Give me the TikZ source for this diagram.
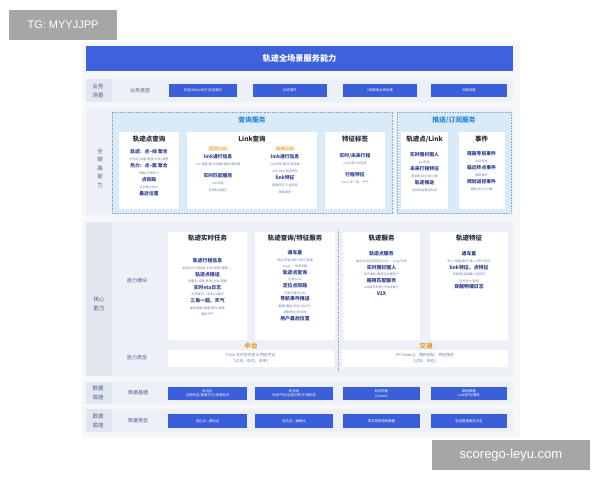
\documentclass[tikz,border=0pt]{standalone}
\usepackage{fontspec}
\setmainfont{Noto Sans CJK SC}
\newfontfamily\wmfont{Liberation Sans}
\usetikzlibrary{positioning}
\definecolor{titleblue}{HTML}{3E62DC}
\definecolor{boxblue}{HTML}{3A5FD8}
\definecolor{panelbg}{HTML}{F6F7FA}
\definecolor{rowbg}{HTML}{EDF1F7}
\definecolor{labelbg}{HTML}{E1E6EF}
\definecolor{labelcol}{HTML}{4F5F8C}
\definecolor{queryfill}{HTML}{D9EBF9}
\definecolor{dotcol}{HTML}{8EA6BF}
\definecolor{cyantitle}{HTML}{2B8BD6}
\definecolor{headcol}{HTML}{262B3A}
\definecolor{itemblue}{HTML}{2E3F8F}
\definecolor{descgray}{HTML}{7382A8}
\definecolor{tagorange}{HTML}{E39A2E}
\definecolor{tagbg}{HTML}{FCEBD0}
\definecolor{wmgray}{HTML}{A6A6A6}
\newcommand{\itm}[1]{{\color{itemblue}\bfseries #1}}
\newcommand{\dsc}[1]{{\fontsize{3.1}{6}\selectfont\color{descgray}#1}}

\begin{document}
\begin{tikzpicture}[x=1pt,y=-1pt,every node/.style={inner sep=0pt},
  rowband/.style={fill=rowbg},
  labelcell/.style={fill=labelbg},
  sidelabel/.style={text=labelcol,font=\fontsize{5.5}{8.5}\selectfont,align=center},
  typelabel/.style={text=labelcol,font=\fontsize{5}{6}\selectfont},
  bluebox/.style={fill=boxblue,text=white,font=\fontsize{3.4}{4.6}\selectfont,align=center,minimum height=13pt},
  panel/.style={fill=white},
  dotbox/.style={fill=queryfill,draw=dotcol,densely dotted,line width=0.6pt},
  grouptitle/.style={text=cyantitle,font=\fontsize{6.8}{7}\selectfont\bfseries},
  head/.style={text=headcol,font=\fontsize{6.5}{7}\selectfont\bfseries},
  items/.style={align=center,font=\fontsize{4.8}{7}\selectfont},
  coreitems/.style={align=center,font=\fontsize{4.9}{6.6}\selectfont},
  tag/.style={fill=tagbg,text=tagorange,font=\fontsize{4.4}{5}\selectfont,inner sep=0.8pt},
  zone/.style={text=tagorange,font=\fontsize{6.5}{7}\selectfont\bfseries},
  typebox/.style={fill=white,text=descgray,align=center,font=\fontsize{3.9}{6}\selectfont,minimum height=17pt},
  sepline/.style={draw=dotcol,densely dotted,line width=0.7pt},
  watermark/.style={fill=wmgray,text=white}]
\useasboundingbox (0,0) rectangle (600,480);
\fill[white] (0,0) rectangle (600,480);
\fill[panelbg] (82,42) rectangle (520,437);

\node[watermark,minimum width=108pt,minimum height=30pt,font=\wmfont\fontsize{11}{12}\selectfont] (wm1) at (63,25) {TG: MYYJJPP};
\node[watermark,minimum width=158pt,minimum height=30pt,font=\wmfont\fontsize{13}{14}\selectfont] (wm2) at (511,455) {scorego-leyu.com};

\node[fill=titleblue,text=white,minimum width=427pt,minimum height=25pt,font=\fontsize{8.2}{9}\selectfont\bfseries] (title) at (299.5,58.5) {轨迹全场景服务能力};

\fill[rowband] (86,79) rectangle (513,102);
\fill[labelcell] (86,79) rectangle (112,102);
\fill[rowband] (86,107) rectangle (513,215);
\fill[rowband] (86,222) rectangle (513,376);
\fill[labelcell] (86,222) rectangle (112,376);
\fill[rowband] (86,382) rectangle (513,404);
\fill[labelcell] (86,382) rectangle (112,404);
\fill[rowband] (86,409) rectangle (513,432);
\fill[labelcell] (86,409) rectangle (112,432);

\node[sidelabel] (l1) at (98,91) {业务\\场景};
\node[sidelabel] (l2) at (100,168) {全\\链\\路\\能\\力};
\node[sidelabel] (l3) at (99,304) {核心\\能力};
\node[sidelabel] (l4) at (98,393) {数据\\底座};
\node[sidelabel] (l5) at (98,421) {数据\\底座};
\node[typelabel] (t1) at (140,91) {业务类型};
\node[typelabel] (t3a) at (137,281) {能力模块};
\node[typelabel] (t3b) at (137,358) {能力类型};
\node[typelabel] (t4) at (138,393) {数据基建};
\node[typelabel] (t5) at (138,421) {数据类型};

\node[bluebox,minimum width=68pt] (use1) at (203,90.5) {充电/WNA/出行 轨迹展示};
\node[bluebox,minimum width=74pt] (use2) at (290,90.5) {动态事件};
\node[bluebox,minimum width=74pt] (use3) at (380,90.5) {C端其他业务场景};
\node[bluebox,minimum width=76pt] (use4) at (469,90.5) {问题调查};

\node[dotbox,minimum width=280pt,minimum height=101pt] (qry) at (252,162.5) {};
\node[dotbox,minimum width=114pt,minimum height=101pt] (psh) at (454,162.5) {};
\node[grouptitle,below=5pt of qry.north] (qryt) {查询服务};
\node[grouptitle,below=5pt of psh.north] (psht) {推送/订阅服务};

\node[panel,minimum width=60pt,minimum height=77pt] (pA) at (149,170.5) {};
\node[panel,minimum width=130pt,minimum height=77pt] (pB) at (252,170.5) {};
\node[panel,minimum width=60pt,minimum height=77pt] (pC) at (355,170.5) {};
\node[panel,minimum width=47pt,minimum height=77pt] (pD) at (424.5,170.5) {};
\node[panel,minimum width=46pt,minimum height=77pt] (pE) at (481.5,170.5) {};

\node[head,below=3.5pt of pA.north] (hA) {轨迹点查询};
\node[head,below=3.5pt of pB.north] (hB) {Link查询};
\node[head,below=3.5pt of pC.north] (hC) {特征标签};
\node[head,below=3.5pt of pD.north] (hD) {轨迹点/Link};
\node[head,below=3.5pt of pE.north] (hE) {事件};

\node[items,below=7.5pt of hA] (iA) {\itm{轨迹：点–线 聚合}\\\dsc{时间点/设备/速度/方向/高程}\\\itm{热力：点–面 聚合}\\\dsc{网格/区域热力}\\\itm{点抓路}\\\dsc{点抓路/500m}\\\itm{最近位置}};
\node[tag,below=3.5pt of hB,xshift=-34pt] (tagL) {实时Link};
\node[tag,below=3.5pt of hB,xshift=33pt] (tagR) {未来Link};
\node[items,below=2.5pt of tagL] (iBL) {\itm{link通行信息}\\\dsc{link 速度/路况/拥堵/事件/通车数}\\[5pt]\itm{实时匹配服务}\\\dsc{wifi点查}\\\dsc{全网轨迹路行}};
\node[items,below=2.5pt of tagR] (iBR) {\itm{link通行信息}\\\dsc{link未来/路况/通车数}\\\dsc{wifi/V2X/轨迹感知}\\\itm{link特征}\\\dsc{道路特征/入道特征}\\\dsc{网格特征}};
\node[items,below=11.5pt of hC] (iC) {\itm{实时/未来行程}\\\dsc{nav行程/OD信息}\\[5pt]\itm{行程特征}\\\dsc{nav二手一段、天气}};
\node[items,below=9.5pt of hD] (iD) {\itm{实时围栏圈人}\\\dsc{poi轨迹}\\\itm{未来行程特征}\\\dsc{基础轨迹/区域小圈}\\\itm{轨迹推送}\\\dsc{总线轨迹推送轨迹}};
\node[items,below=9.5pt of hE] (iE) {\itm{链路导航事件}\\\dsc{出链信息}\\\itm{临近终点事件}\\\dsc{偏离事件}\\\itm{规划进径事件}\\\dsc{偏航/NOC/订播}};

\node[panel,minimum width=79pt,minimum height=108pt] (pF) at (207.5,286) {};
\node[panel,minimum width=80pt,minimum height=108pt] (pG) at (295,286) {};
\node[panel,minimum width=77pt,minimum height=108pt] (pH) at (381.5,286) {};
\node[panel,minimum width=78pt,minimum height=108pt] (pI) at (469,286) {};
\coordinate (sepT) at (338.5,230);
\coordinate (sepB) at (338.5,372);
\draw[sepline] (sepT) -- (sepB);

\node[head,below=3pt of pF.north] (hF) {轨迹实时任务};
\node[head,below=3pt of pG.north] (hG) {轨迹查询/特征服务};
\node[head,below=3pt of pH.north] (hH) {轨迹服务};
\node[head,below=3pt of pI.north] (hI) {轨迹特征};

\node[coreitems,below=17pt of hF] (iF) {\itm{轨迹行程信息}\\\dsc{起终点/行径信息/时间/速度/里程/…}\\\itm{轨迹点推送}\\\dsc{位置点/设备/速度/方向/高程}\\\itm{实时eta日志}\\\dsc{实时路况、未来eta路况}\\\itm{三角一超、天气}\\\dsc{路段速度/拥堵/事件/拥堵}\\\dsc{路段天气}};
\node[coreitems,below=8pt of hG] (iG) {\itm{通车量}\\\dsc{进出/停留/绕行/穿行/拥堵}\\\dsc{etaas · 未来流量}\\\itm{轨迹点查询}\\\dsc{区域/Link}\\\itm{定位点抓路}\\\dsc{匹配点查近link}\\\itm{导航事件推送}\\\dsc{偏离/偏航/到达/OD/PCI}\\\dsc{通勤地址/常驻地}\\\itm{用户最后位置}};
\node[coreitems,below=10pt of hH] (iH) {\itm{轨迹点服务}\\\dsc{被动点/指定频道点/link · poly/历史}\\\itm{实时围栏圈人}\\\dsc{电子围栏/路段实时圈用户}\\\itm{路网匹配服务}\\\dsc{adb绑定匹配/分钟级推行}\\\itm{V2X}};
\node[coreitems,below=10pt of hI] (iI) {\itm{通车量}\\\dsc{进入/穿越/离开/进入/停行/绕行}\\\itm{link特征、点特征}\\\dsc{车速度/道路最小段特征}\\\dsc{实时热力/源特}\\\itm{穿越明细日志}\\\dsc{-}};

\node[zone] (mid) at (251,346) {中台};
\node[zone] (traf) at (426,346) {交通};
\node[typebox,minimum width=166pt] (pJ) at (251,358.5) {Flink 实时流任务 \& 特征平台\\(过去、现在、未来)};
\node[typebox,minimum width=166pt] (pK) at (425,358.5) {PP-History、路网匹配、特征服务\\(过去、现在)};

\node[bluebox,minimum width=79pt] (base1) at (207.5,393.5) {轨迹点\\全网轨迹/搜索打分/底层标识};
\node[bluebox,minimum width=78pt] (base2) at (294,393.5) {轨迹线\\轨迹气泡/运营过程/平滑轨迹};
\node[bluebox,minimum width=77pt] (base3) at (381.5,393.5) {轨迹匹配\\Dmatch};
\node[bluebox,minimum width=76pt] (base4) at (469,393.5) {路网数据\\Link序列/属性};

\node[bluebox,minimum width=79pt,minimum height=14pt] (kind1) at (207.5,421) {定位点—原始点};
\node[bluebox,minimum width=78pt,minimum height=14pt] (kind2) at (294,421) {定位点—抽稀点};
\node[bluebox,minimum width=77pt,minimum height=14pt] (kind3) at (381.5,421) {驾车导航路线数据};
\node[bluebox,minimum width=76pt,minimum height=14pt] (kind4) at (469,421) {轨迹基建服务日志};
\end{tikzpicture}
\end{document}
